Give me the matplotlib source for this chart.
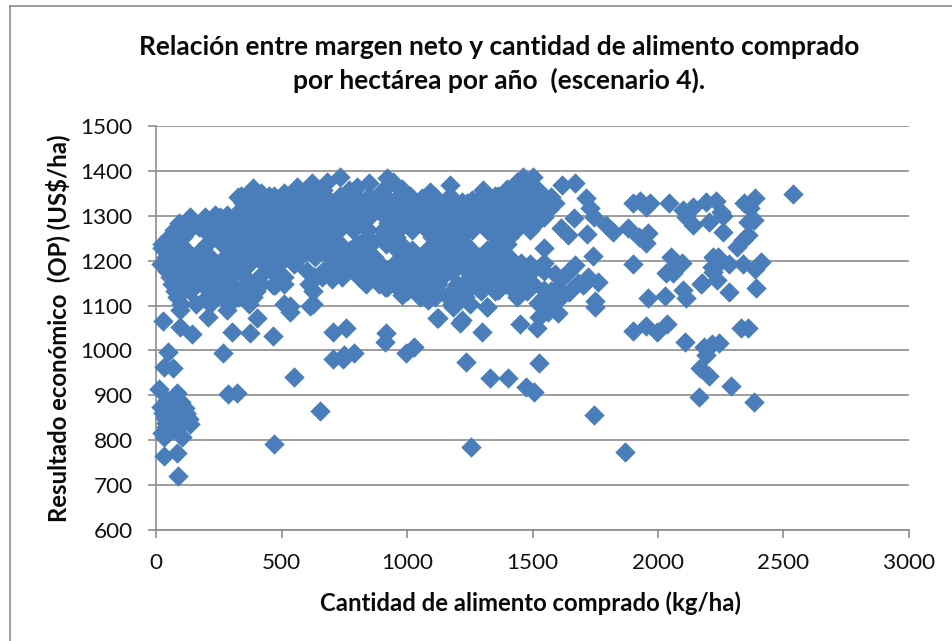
import matplotlib
matplotlib.use("Agg")
import matplotlib.pyplot as plt
from matplotlib.lines import Line2D

# right-hand, sparse part of the cloud (x kg/ha, y US$/ha)
x_right = [2538,2386,2342,2367,2382,2358,2358,2339,2315,2410,2386,2339,2283,2259,2259,2390,2283,2171,2235,2219,2240,2219,
 2358,2331,2243,2183,2191,2107,2167,2203,2291,2163,2382,1900,1952,1996,2036,
 1526,1331,1402,1474,1506,1745,1741,1900,
 2052,2070,2060,2030,2095,1960,2027,2100,2111,
 1614,1642,1665,1717,1618,1669,1713,1730,1745,1793,1822,1880,1924,1960,1952,
 1900,1928,1952,1968,2044,2100,2139,2191,2231,2139,2111,2203,2251,2175,2240,2215,
 1546,1546,1454,1494,1406,1414,1366,1319,1299,1450,1518,1526,1602,1574,1546,1546,1622,1645,1680,1721,1761,1669,1749,1749,
 1640,1700,1595,1605,1590,1560,1520,1470,1530,1870,2215,1710,1600]
y_right = [1348,1340,1328,1317,1291,1286,1257,1246,1231,1197,1182,1193,1193,1264,1300,1139,1130,1148,1157,1208,1192,1175,
 1050,1050,1017,1008,990,1019,961,943,921,896,885,1044,1055,1041,1059,
 972,939,939,919,908,856,1210,1193,
 1208,1190,1172,1172,1195,1117,1122,1135,1117,
 1273,1257,1296,1260,1369,1373,1340,1318,1298,1280,1264,1273,1253,1262,1239,
 1328,1333,1320,1328,1328,1313,1320,1331,1333,1280,1298,1286,1309,1150,1208,1186,
 1228,1195,1195,1175,1164,1139,1137,1097,1041,1059,1050,1075,1083,1108,1135,1120,1164,1130,1150,1164,1153,1190,1097,1110,
 1175,1145,1130,1115,1170,1085,1105,1165,1185,773,1015,1150,1140]

# left-hand low points and the lower edge of the cloud
x_low = [13,82,49,30,66,30,83,86,102,22,30,135,115,20,45,65,95,120,35,60,85,105,40,75,55,
 28,50,72,95,118,40,62,85,108,130,52,75,98,
 268,288,322,302,375,467,550,653,470,705,757,704,745,750,789,916,912,998,1029,1234,1254,28,96,143,
 1120,1211,1183,1219,1124,1319,920,
 209,96,402,282,534,614,466,534,700,740,474,
 813,912,980,1084,1279,1363,1422,1179]
y_low = [914,905,996,964,962,765,772,721,808,816,808,836,872,875,890,880,870,860,850,845,840,850,830,825,820,
 860,868,862,876,858,838,842,855,838,848,885,893,885,
 995,903,905,1041,1039,1032,941,866,792,1040,1050,981,981,990,994,1039,1019,994,1008,975,784,1065,1052,1036,
 1072,1061,1097,1068,1072,1097,1142,
 1074,1090,1072,1090,1086,1099,1146,1100,1159,1164,1146,
 1161,1142,1124,1112,1142,1135,1140,1175]

# upper edge of the cloud
x_top = [23,60,100,135,170,235,281,328,355,388,420,470,510,560,620,680,733,800,850,920,945,980,1010,1060,1092,1171,1220,1260,1303,1350,1400,1440,1462,1502,1530,1574]
y_top = [1228,1250,1265,1295,1275,1302,1302,1342,1330,1362,1350,1345,1350,1365,1372,1375,1387,1365,1372,1384,1375,1360,1345,1340,1353,1368,1330,1335,1357,1345,1360,1375,1387,1387,1350,1342]

# inside of the cloud, read row by row
rows = {
 1358:[610,665,770,905,1415,1480,1520],
 1343:[340,395,450,505,560,618,672,735,792,848,912,968,1108,1170,1300,1362,1425,1482,1541],
 1328:[348,405,462,520,578,640,700,758,820,878,935,1000,1062,1118,1178,1240,1300,1350,1412,1470,1530,1590],
 1313:[335,392,450,510,566,625,682,745,803,862,920,980,1040,1095,1155,1212,1272,1330,1390,1448,1505,1560],
 1298:[135,195,255,318,378,438,495,555,615,672,735,792,850,912,968,1030,1085,1145,1205,1262,1322,1380,1436,1495,1545],
 1283:[90,150,208,268,332,392,452,512,570,632,690,750,810,925,985,1045,1100,1162,1220,1278,1340,1398,1455,1515],
 1268:[72,130,190,248,310,368,430,490,548,608,668,728,785,845,905,965,1020,1080,1140,1198,1258,1318,1375,1435,1490],
 1253:[50,108,222,282,342,402,460,522,582,640,698,840,900,958,1100,1158,1218,1350,1408],
 1238:[22,80,205,262,322,380,440,498,558,618,678,735,800,858,918,975,1110,1170,1230,1350,1400],
 1223:[62,120,178,300,360,418,478,538,598,655,712,772,830,960,1018,1078,1135,1195,1255,1318,1378],
 1208:[40,98,158,215,275,335,395,452,512,572,632,690,750,808,868,990,1050,1108,1168,1225,1285,1345,1405],
 1193:[20,78,135,195,255,312,370,430,490,550,715,775,835,892,950,1010,1070,1130,1190,1248,1308,1368,1428,1490],
 1178:[45,102,162,222,280,340,462,600,665,725,785,845,905,965,1025,1085,1240,1300,1358,1418,1545],
 1163:[55,115,175,235,295,355,410,510,630,660,850,910,970,1030,1090,1140,1250,1310,1370,1470],
 1148:[62,122,182,242,300,360,420,510,610,835,890,950,1010,1065,1125,1200,1255,1320,1395,1455,1500],
 1133:[75,135,225,285,345,400,625,1000,1065,1120,1180,1240,1295,1350,1480,1575],
 1118:[82,205,265,325,385,1050,1110,1165,1230,1440],
 1103:[100,160,215,290,370,510,625,1180,1250],
}

x_dense = [x for y, xs in rows.items() for x in xs]
y_dense = [y for y, xs in rows.items() for x in xs]
x_all = x_dense + x_top + x_low + x_right
y_all = y_dense + y_top + y_low + y_right

title_lines = "Relación entre margen neto y cantidad de alimento comprado\npor hectárea por año  (escenario 4)."
x_label = "Cantidad de alimento comprado (kg/ha)"
y_label = "Resultado económico  (OP) (US$/ha)"
x_ticks = [0,500,1000,1500,2000,2500,3000]
y_ticks = [600,700,800,900,1000,1100,1200,1300,1400,1500]

W, H = 952, 641
plt.rcParams['font.family'] = ['Lato', 'DejaVu Sans']
fig = plt.figure(figsize=(W/100, H/100), dpi=100)
ax = fig.add_axes([156/W, 1-530/H, (909-156)/W, (530-126)/H])
ax.set_xlim(0, 3000); ax.set_ylim(600, 1500)
ax.set_xticks(x_ticks); ax.set_yticks(y_ticks)
gray = '#8c8c8c'
ax.grid(axis='y', color=gray, lw=1.2)
ax.set_axisbelow(True)
for s in ['top','right']:
    ax.spines[s].set_visible(False)
for s in ['left','bottom']:
    ax.spines[s].set_color(gray); ax.spines[s].set_linewidth(1.2)
ax.tick_params(axis='both', color=gray, width=1.2, length=5.8, labelsize=16.2, labelcolor='#111111')
ax.tick_params(axis='x', pad=11)
ax.tick_params(axis='y', pad=11)
ax.scatter(x_all, y_all, marker='D', s=108, color='#4a7ebb', linewidths=0, clip_on=False, zorder=3)
fig.text(531/W, 1-603/H, x_label, ha='center', va='center', fontsize=17.2, fontweight='bold', color='#0a0a0a')
fig.text(58/W, 1-328/H, y_label, ha='center', va='center', rotation=90, fontsize=17.2, fontweight='bold', color='#0a0a0a')
fig.text(499/W, 1-47/H, title_lines.split("\n")[0], ha='center', va='center', fontsize=19, fontweight='bold', color='#0a0a0a')
fig.text(499/W, 1-80/H, title_lines.split("\n")[1], ha='center', va='center', fontsize=19, fontweight='bold', color='#0a0a0a')
fig.add_artist(Line2D([10/W,10/W],[0,1-6/H], color=gray, lw=1.2))
fig.add_artist(Line2D([10/W,1],[1-6/H,1-6/H], color=gray, lw=1.2))
fig.savefig('out.png', dpi=100)
